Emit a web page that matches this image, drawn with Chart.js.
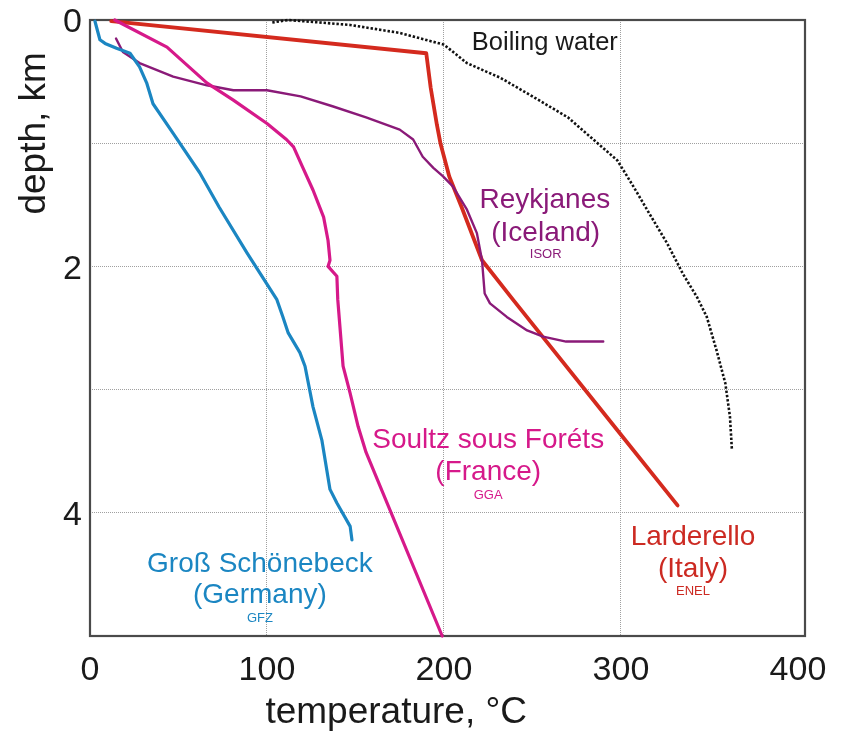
<!DOCTYPE html>
<html><head><meta charset="utf-8">
<script src="https://cdn.jsdelivr.net/npm/chart.js@4.4.1/dist/chart.umd.min.js"></script>
<style>html,body{margin:0;padding:0;background:#fff}</style>
</head><body>
<canvas id="c" width="847" height="738"></canvas>
<script>
// ---- axis ticks ----
const xTickValues = [0, 100, 200, 300, 400];
const yTickValues = [0, 1, 2, 3, 4, 5];
const yTickLabels = {0: '0', 2: '2', 4: '4'};

// ---- series: temperature (°C) vs depth (km) ----
const boilingTemp  = [103, 112, 147, 175, 200, 213, 232, 250, 270, 298, 307, 316, 326, 335, 343, 348.5, 354, 359, 361.6, 362.7];
const boilingDepth = [0.02, 0.0, 0.04, 0.105, 0.2, 0.35, 0.47, 0.62, 0.79, 1.14, 1.35, 1.57, 1.81, 2.06, 2.25, 2.41, 2.68, 2.95, 3.22, 3.49];

const larderelloTemp  = [12, 190, 192.5, 196, 198, 203, 210, 221.5, 239, 298, 332];
const larderelloDepth = [0.01, 0.27, 0.55, 0.85, 1.0, 1.27, 1.52, 1.95, 2.27, 3.33, 3.94];

const reykjanesTemp  = [14.7, 18.6, 28, 47, 66, 81, 100, 119, 137, 156, 175, 182.6, 188, 194, 199.5, 205, 213, 218.6, 221.5, 223, 226, 235.5, 247, 256, 269, 290];
const reykjanesDepth = [0.15, 0.26, 0.35, 0.46, 0.53, 0.57, 0.57, 0.62, 0.70, 0.79, 0.89, 0.97, 1.11, 1.2, 1.27, 1.35, 1.54, 1.73, 1.95, 2.22, 2.3, 2.41, 2.52, 2.57, 2.61, 2.61];

const soultzTemp  = [14, 43.5, 66, 81, 100, 111, 115, 120, 126, 132, 134.5, 135.6, 134.5, 139.5, 140, 143, 147, 151.5, 156, 199];
const soultzDepth = [0.0, 0.22, 0.51, 0.65, 0.84, 0.97, 1.03, 1.19, 1.38, 1.6, 1.79, 1.95, 2.0, 2.08, 2.27, 2.81, 3.03, 3.3, 3.51, 5.0];

const grossTemp  = [2.8, 5.6, 8.5, 15, 22.6, 28, 32, 35.6, 47, 62, 73, 88.7, 105.6, 109, 112, 118.6, 121.5, 126, 131, 135.6, 139.5, 147, 148];
const grossDepth = [0.01, 0.16, 0.19, 0.23, 0.27, 0.38, 0.51, 0.68, 0.92, 1.24, 1.52, 1.89, 2.27, 2.41, 2.54, 2.7, 2.81, 3.14, 3.41, 3.81, 3.92, 4.11, 4.22];

// ---- annotation texts ----
const labelTexts = ['Boiling water', 'Reykjanes', '(Iceland)', 'ISOR',
  'Soultz sous Foréts', '(France)', 'GGA',
  'Larderello', '(Italy)', 'ENEL',
  'Groß Schönebeck', '(Germany)', 'GFZ'];
const labelTemp  = [257, 257, 257.5, 257.5, 225, 225, 225, 340.7, 340.7, 340.7, 96, 96, 96];
const labelDepth = [0.24, 1.53, 1.79, 1.93, 3.47, 3.73, 3.89, 4.26, 4.52, 4.67, 4.48, 4.73, 4.89];

const FONT = '"Liberation Sans", Arial, Helvetica, sans-serif';
const C_RED = '#d42a1e', C_MAG = '#d6198a', C_PUR = '#8a1a78', C_BLUE = '#1b86c2';
const labelColors = ['#1a1a1a', C_PUR, C_PUR, C_PUR, C_MAG, C_MAG, C_MAG, '#cc2a22', '#cc2a22', '#cc2a22', C_BLUE, C_BLUE, C_BLUE];
const labelSizes = [25.5, 28, 28, 13, 28, 28, 13, 28, 28, 13, 28, 28, 13];

function pts(t, d) { return t.map((v, i) => ({x: v, y: d[i]})); }

function lineSet(t, d, color, width, dash) {
  return {data: pts(t, d), showLine: true, borderColor: color, borderWidth: width,
    borderDash: dash || [], pointRadius: 0, fill: false, tension: 0,
    borderCapStyle: dash ? 'butt' : 'round', borderJoinStyle: 'round', clip: 4};
}

const framePlugin = {
  id: 'frame',
  beforeDatasetsDraw(chart) {
    const a = chart.chartArea, ctx = chart.ctx;
    ctx.save();
    ctx.strokeStyle = '#4a4a4a';
    ctx.lineWidth = 2.2;
    ctx.strokeRect(a.left, a.top, a.right - a.left, a.bottom - a.top);
    ctx.restore();
  }
};

const textPlugin = {
  id: 'texts',
  afterDatasetsDraw(chart) {
    const ctx = chart.ctx, sx = chart.scales.x, sy = chart.scales.y, a = chart.chartArea;
    ctx.save();
    ctx.textAlign = 'center';
    ctx.textBaseline = 'alphabetic';
    labelTexts.forEach((s, i) => {
      ctx.fillStyle = labelColors[i];
      ctx.font = labelSizes[i] + 'px ' + FONT;
      ctx.fillText(s, sx.getPixelForValue(labelTemp[i]), sy.getPixelForValue(labelDepth[i]));
    });
    // axis titles
    ctx.fillStyle = '#1a1a1a';
    ctx.font = '37px ' + FONT;
    ctx.fillText('temperature, °C', sx.getPixelForValue(173), a.bottom + 87);
    ctx.translate(a.left - 45, sy.getPixelForValue(0.92));
    ctx.rotate(-Math.PI / 2);
    ctx.fillText('depth, km', 0, 0);
    ctx.restore();
  }
};

new Chart(document.getElementById('c'), {
  type: 'scatter',
  data: {
    datasets: [
      lineSet(boilingTemp, boilingDepth, '#111111', 2.6, [2.4, 1.9]),
      lineSet(grossTemp, grossDepth, C_BLUE, 3.2),
      lineSet(soultzTemp, soultzDepth, C_MAG, 3.2),
      lineSet(reykjanesTemp, reykjanesDepth, C_PUR, 2.4),
      lineSet(larderelloTemp, larderelloDepth, C_RED, 3.8)
    ]
  },
  options: {
    responsive: false,
    animation: false,
    events: [],
    layout: {padding: {top: 20, right: 42, left: 0, bottom: 0}},
    plugins: {legend: {display: false}, tooltip: {enabled: false}},
    scales: {
      x: {
        type: 'linear', min: 0, max: 404,
        afterBuildTicks: s => { s.ticks = xTickValues.map(v => ({value: v})); },
        afterFit: s => { s.height = 102; s.paddingLeft = 0; s.paddingRight = 0; },
        ticks: {font: {family: FONT, size: 34}, color: '#1a1a1a', padding: 14,
          maxRotation: 0, autoSkip: false, callback: v => String(v)},
        grid: {drawTicks: false, lineWidth: 1,
          color: c => (c.tick && c.tick.value > 0 && c.tick.value < 400) ? '#a0a0a0' : 'rgba(0,0,0,0)'},
        border: {display: false, dash: [1, 1]}
      },
      y: {
        type: 'linear', min: 0, max: 5, reverse: true,
        afterBuildTicks: s => { s.ticks = yTickValues.map(v => ({value: v})); },
        afterFit: s => { s.width = 90; s.paddingTop = 0; s.paddingBottom = 0; },
        ticks: {font: {family: FONT, size: 34}, color: '#1a1a1a', padding: 8, labelOffset: 3,
          autoSkip: false, callback: v => (yTickLabels[v] !== undefined ? yTickLabels[v] : '')},
        grid: {drawTicks: false, lineWidth: 1,
          color: c => (c.tick && c.tick.value > 0 && c.tick.value < 5) ? '#a0a0a0' : 'rgba(0,0,0,0)'},
        border: {display: false, dash: [1, 1]}
      }
    }
  },
  plugins: [framePlugin, textPlugin]
});
</script>
</body></html>
